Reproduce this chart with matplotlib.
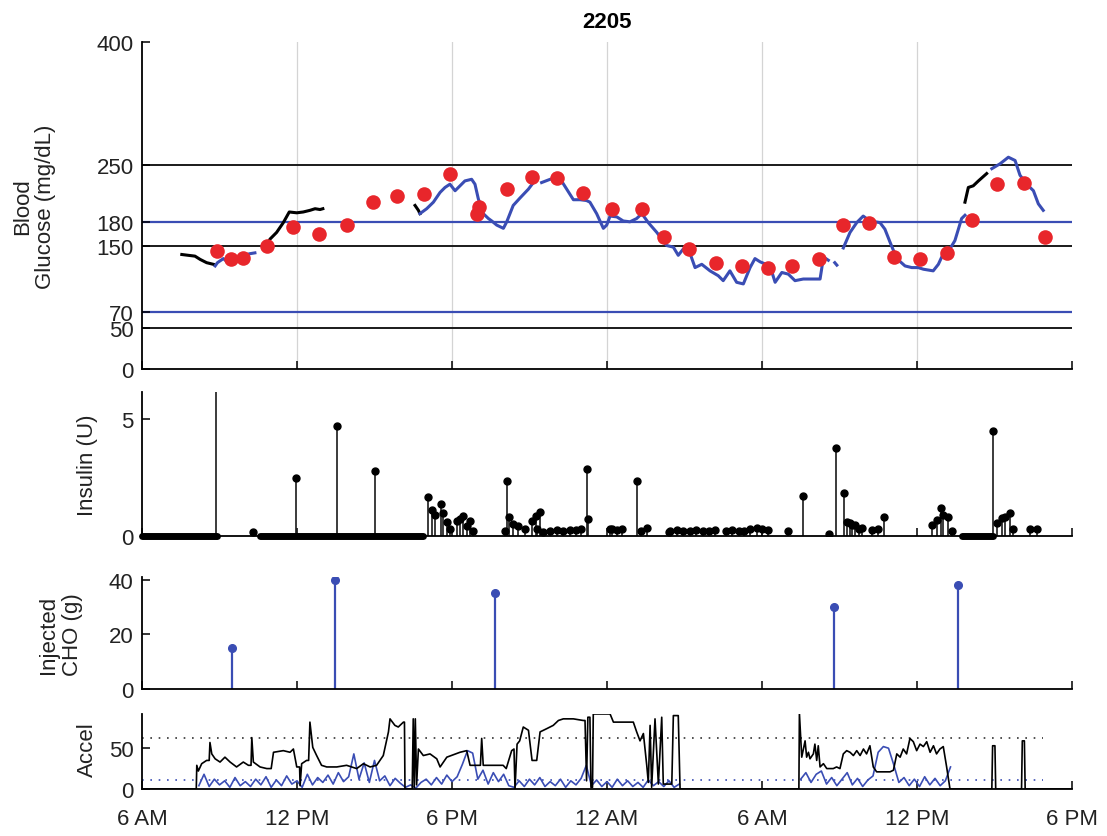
import matplotlib.pyplot as plt
import numpy as np

plt.rcParams['font.family'] = ['Liberation Sans', 'DejaVu Sans']

nan = np.nan

# time axis: hours since 6 AM of the first day
hour_ticks = [0, 6, 12, 18, 24, 30, 36]
hour_labels = ['6 AM', '12 PM', '6 PM', '12 AM', '6 AM', '12 PM', '6 PM']

# glucose thresholds (mg/dL)
black_limits = [250, 150, 50]
blue_limits = [180, 70]

# reference glucose readings (red dots)
ref_t = [2.92, 3.45, 3.92, 4.83, 5.86, 6.87, 7.92, 8.93, 9.86, 10.92, 11.92, 12.96,
         13.05, 14.12, 15.09, 16.08, 17.06, 18.2, 19.34, 20.21, 21.19, 22.22, 23.22,
         24.22, 25.15, 26.22, 27.15, 28.16, 29.12, 30.12, 31.15, 32.14, 33.09, 34.16, 34.96]
ref_g = [144, 134, 136, 151, 174, 165, 176, 204, 212, 214, 238, 190,
         198, 220, 235, 233, 215, 196, 196, 161, 147, 129, 126,
         124, 126, 135, 176, 178, 137, 135, 142, 182, 226, 227, 161]

# CGM trace (blue), gaps as nan
cgm_t = [2.83, 2.92, 3.15, 3.41, 3.67, 3.92, 4.18, 4.37, nan,
         10.76, 11.02, 11.28, 11.54, 11.73, 11.92, 12.12, 12.31, 12.5, 12.76, 12.89,
         13.02, 13.21, 13.41, 13.54, 13.73, 13.99, 14.12, 14.37, 14.63, 14.96, 15.15, nan,
         15.47, 15.8, 16.18, 16.44, 16.7, 16.96, 17.21, 17.34, 17.6, 17.86, 17.99, 18.12,
         18.38, 18.63, 18.89, 19.15, 19.35, 19.6, 19.93, 20.31, 20.57, 20.76, 20.96, 21.22,
         21.41, 21.67, 21.99, 22.31, 22.5, 22.76, 23.02, 23.28, 23.54, 23.73, 23.93, 24.31,
         24.51, 24.77, 25.02, 25.28, 25.6, 26.25, 26.31, 26.38, 26.57, nan,
         26.82, 26.9, nan,
         27.15, 27.41, 27.67, 27.92, 28.18, 28.57, 28.76, 28.96, 29.22, 29.54, 29.8, 30.05,
         30.25, 30.63, 30.83, 31.02, 31.28, 31.47, 31.73, 31.86, nan,
         32.9, 33.22, 33.54, 33.8, 33.99, 34.25, 34.51, 34.7, 34.89]
cgm_g = [126, 130, 135, 128, 132, 139, 141, 142, nan,
         190, 196, 204, 216, 222, 226, 218, 224, 230, 232, 226,
         208, 190, 184, 181, 176, 172, 180, 200, 209, 220, 228, nan,
         228, 232, 233, 220, 207, 207, 206, 204, 190, 172, 176, 187,
         186, 181, 180, 184, 190, 179, 167, 151, 149, 139, 147, 141,
         124, 128, 120, 114, 108, 120, 106, 104, 124, 135, 131, 126,
         106, 118, 116, 108, 110, 110, 122, 137, 133, nan,
         130, 127, nan,
         148, 167, 179, 187, 181, 179, 171, 155, 135, 126, 124, 124,
         122, 120, 128, 141, 147, 157, 184, 188, nan,
         245, 251, 259, 255, 237, 226, 218, 202, 194]

# second sensor segments (black)
cgm2_t = [1.54, 1.79, 2.05, 2.25, 2.5, 2.76, nan,
          4.76, 4.96, 5.21, 5.47, 5.7, 5.99, 6.24, 6.5, 6.7, 6.89, 7.0, nan,
          10.57, 10.7, 10.76, nan,
          31.86, 31.99, 32.18, 32.38, 32.7]
cgm2_g = [140, 139, 138, 134, 130, 128, nan,
          149, 159, 167, 179, 192, 191, 192, 194, 196, 195, 196, nan,
          200, 194, 190, nan,
          204, 222, 224, 230, 239]

# insulin deliveries (hour, U)
insulin = [(2.86, 9.0), (4.28, 0.15), (5.95, 2.45), (7.55, 4.69), (9.02, 2.75),
           (11.08, 1.65), (11.21, 1.12), (11.34, 0.89), (11.58, 1.36), (11.66, 1.0),
           (11.8, 0.58), (11.92, 0.3), (12.18, 0.65), (12.31, 0.72), (12.44, 0.86),
           (12.57, 0.44), (12.7, 0.65), (12.83, 0.23),
           (14.05, 0.23), (14.12, 2.35), (14.22, 0.8), (14.37, 0.51), (14.57, 0.44),
           (14.83, 0.3), (15.09, 0.65), (15.25, 0.86), (15.28, 0.3), (15.41, 1.03),
           (15.54, 0.16), (15.8, 0.2), (16.05, 0.25), (16.3, 0.2), (16.55, 0.25),
           (16.8, 0.25), (17.0, 0.3), (17.21, 2.85), (17.25, 0.72),
           (18.12, 0.3), (18.2, 0.3), (18.4, 0.25), (18.6, 0.3), (19.15, 2.35),
           (19.3, 0.23), (19.56, 0.33),
           (20.4, 0.15), (20.45, 0.2), (20.7, 0.25), (20.95, 0.2), (21.2, 0.2),
           (21.45, 0.25), (21.7, 0.2), (21.95, 0.2), (22.2, 0.25),
           (22.6, 0.2), (22.85, 0.25), (23.1, 0.2), (23.3, 0.2),
           (23.55, 0.3), (23.8, 0.35), (24.0, 0.3), (24.25, 0.25),
           (25.0, 0.2), (25.58, 1.72), (26.6, 0.1), (26.86, 3.74), (27.18, 1.82),
           (27.3, 0.6), (27.4, 0.55), (27.5, 0.45), (27.62, 0.45), (27.75, 0.3),
           (27.88, 0.35), (28.25, 0.25), (28.5, 0.3), (28.73, 0.82),
           (30.57, 0.45), (30.77, 0.7), (30.92, 1.2), (31.02, 0.9), (31.21, 0.8),
           (31.35, 0.2),
           (32.93, 4.48), (33.09, 0.55), (33.28, 0.75), (33.41, 0.8), (33.6, 1.0),
           (33.73, 0.3), (34.38, 0.3), (34.64, 0.3)]
# periods of very frequent small doses
basal_start = [0.0, 4.57, 31.73]
basal_end = [2.9, 10.89, 32.96]

# carbohydrates (g)
cho_t = [3.48, 7.48, 13.65, 26.78, 31.58]
cho_g = [15, 40, 35, 30, 38]

# accelerometer, black trace (hour, value)
accel = [(0, 0), (2.10, 0), (2.12, 29), (2.18, 22), (2.31, 31), (2.50, 35), (2.60, 35),
         (2.63, 57), (2.70, 43), (2.83, 37), (3.02, 33), (3.21, 39), (3.41, 33), (3.66, 27),
         (3.92, 33), (4.12, 29), (4.22, 29), (4.25, 63), (4.31, 33), (4.57, 27), (4.83, 25),
         (5.00, 25), (5.09, 45), (5.47, 47), (5.73, 45), (5.86, 49), (5.99, 27), (6.10, 27),
         (6.12, 4), (6.18, 31), (6.37, 35), (6.45, 35), (6.50, 82), (6.61, 51), (6.76, 41),
         (6.95, 29), (7.15, 27), (7.54, 27), (7.92, 29), (8.31, 25), (8.57, 31), (8.83, 27),
         (9.08, 29), (9.34, 41), (9.54, 70), (9.60, 86), (9.79, 78), (9.92, 76), (10.12, 82),
         (10.16, 82), (10.18, 0), (10.46, 0), (10.50, 86), (10.54, 2), (10.58, 86),
         (10.63, 5), (10.70, 49), (10.89, 41), (11.15, 43), (11.41, 37), (11.54, 27),
         (11.67, 33), (11.80, 39), (12.31, 45), (12.57, 47), (12.70, 29), (13.10, 29),
         (13.15, 62), (13.21, 29), (13.98, 29), (14.10, 25), (14.31, 47), (14.40, 49),
         (14.44, 0), (14.52, 55), (14.62, 59), (14.76, 76), (14.96, 72), (15.10, 35),
         (15.28, 35), (15.41, 70), (15.67, 74), (15.92, 78), (16.12, 84), (16.31, 86),
         (16.70, 86), (17.08, 84), (17.15, 84), (17.21, 10), (17.26, 88), (17.34, 88),
         (17.38, 2), (17.44, 2), (17.47, 92), (18.12, 92), (18.25, 82), (18.38, 82),
         (19.02, 82), (19.15, 70), (19.28, 59), (19.41, 68), (19.54, 29), (19.60, 8),
         (19.67, 78), (19.73, 2), (19.86, 86), (19.99, 6), (20.12, 88), (20.18, 6),
         (20.51, 6), (20.57, 90), (20.76, 90), (20.83, 0),
         (25.43, 0), (25.45, 93), (25.54, 39), (25.67, 59), (25.73, 39), (25.80, 45),
         (25.86, 37), (25.99, 43), (26.05, 55), (26.12, 35), (26.18, 53), (26.25, 27),
         (26.38, 31), (26.51, 25), (26.76, 25), (26.89, 27), (27.02, 25), (27.15, 43),
         (27.28, 47), (27.41, 45), (27.54, 41), (27.67, 47), (27.80, 41), (27.93, 49),
         (28.05, 43), (28.18, 53), (28.31, 27), (28.44, 21), (28.96, 21), (29.09, 23),
         (29.22, 43), (29.35, 39), (29.47, 49), (29.60, 43), (29.73, 62), (29.86, 58),
         (29.99, 47), (30.12, 55), (30.25, 52), (30.38, 58), (30.51, 45), (30.64, 53),
         (30.76, 43), (30.89, 49), (31.02, 52), (31.15, 27), (31.28, 0),
         (32.90, 0), (32.93, 53), (33.02, 53), (33.05, 0), (34.05, 0), (34.08, 59),
         (34.16, 59), (34.19, 0), (36.0, 0)]

# accelerometer, blue trace sampled every 0.2 h
blue1_start = 2.2
blue1_v = [4, 18, 3, 12, 5, 10, 2, 14, 4, 9, 3, 12, 5, 15, 2, 11, 4, 16, 6, 10,
           2, 18, 5, 14, 8, 17, 6, 20, 9, 15, 43, 12, 32, 8, 35, 10, 16, 4, 13, 7,
           2, 5, 1, 8, 12, 5, 14, 6, 17, 9, 15, 30, 47, 44, 12, 23, 6, 20, 9, 18,
           4, 2, 10, 3, 12, 5, 14, 3, 9, 4, 12, 2, 10, 5, 13, 29, 4, 11, 3, 9,
           2, 12, 4, 10, 3, 8, 2, 11, 4, 9, 3, 10, 2, 6]
blue2_start = 25.5
blue2_v = [12, 20, 8, 18, 22, 6, 14, 4, 12, 20, 5, 13, 3, 11, 16,
           45, 52, 50, 30, 8, 14, 4, 12, 3, 15, 5, 13, 4, 10, 27]
accel_high = 62
accel_low = 11

blue = '#3a4db4'
red = '#e8262b'
txt = '#222222'

fig = plt.figure(figsize=(11.07, 8.37), dpi=100)
ax1 = fig.add_axes([0.1283, 0.558, 0.840, 0.3907])
ax2 = fig.add_axes([0.1283, 0.3584, 0.840, 0.1720])
ax3 = fig.add_axes([0.1283, 0.1756, 0.840, 0.1338])
ax4 = fig.add_axes([0.1283, 0.0562, 0.840, 0.0896])
axes = [ax1, ax2, ax3, ax4]

for ax in axes:
    ax.set_xlim(0, 36)
    ax.set_xticks(hour_ticks)
    ax.set_xticklabels([])
    ax.spines[['top', 'right']].set_visible(False)
    ax.spines[['left', 'bottom']].set_linewidth(1.3)
    ax.tick_params(direction='in', length=5.5, width=1.1, labelsize=16,
                   labelcolor=txt, pad=6)
ax4.set_xticklabels(hour_labels)
ax4.tick_params(axis='x', pad=14)

# --- glucose ---
for x in hour_ticks[1:-1]:
    ax1.axvline(x, color='#d4d4d4', lw=0.9, zorder=0)
for y in black_limits:
    ax1.axhline(y, color='#1a1a1a', lw=1.4, zorder=1)
for y in blue_limits:
    ax1.axhline(y, color=blue, lw=1.6, zorder=1)
ax1.plot(cgm2_t, cgm2_g, color='black', lw=2.2, zorder=2)
ax1.plot(cgm_t, cgm_g, color=blue, lw=2.2, zorder=2)
ax1.plot(ref_t, ref_g, 'o', color=red, ms=10.5, mec='none', zorder=3)
ax1.set_ylim(0, 400)
ax1.set_yticks([0, 50, 70, 150, 180, 250, 400])
ax1.set_title('2205', fontsize=16, fontweight='bold', pad=11)

# --- insulin ---
ins_t, ins_u = zip(*insulin)
ax2.vlines(ins_t, 0, ins_u, color='#1a1a1a', lw=1.2)
ax2.plot(ins_t, ins_u, 'o', color='black', ms=5)
ax2.hlines([0] * len(basal_start), basal_start, basal_end, color='black',
           lw=5, capstyle='round', clip_on=False, zorder=3)
ax2.set_ylim(0, 6.13)
ax2.set_yticks([0, 5])

# --- carbohydrates ---
ax3.vlines(cho_t, 0, cho_g, color=blue, lw=1.6)
ax3.plot(cho_t, cho_g, 'o', color=blue, ms=5.5)
ax3.set_ylim(0, 41)
ax3.set_yticks([0, 20, 40])

# --- accelerometer ---
acc_t, acc_v = zip(*accel)
blue1_t = blue1_start + 0.2 * np.arange(len(blue1_v))
blue2_t = blue2_start + 0.2 * np.arange(len(blue2_v))
ax4.hlines(accel_high, 0, 34.9, color='#333333', lw=1.2, linestyles=(0, (1, 4)))
ax4.hlines(accel_low, 0, 34.9, color=blue, lw=1.2, linestyles=(0, (1, 4)))
ax4.plot(blue1_t, blue1_v, color=blue, lw=1.2)
ax4.plot(blue2_t, blue2_v, color=blue, lw=1.2)
ax4.plot(acc_t, acc_v, color='black', lw=1.2)
ax4.set_ylim(0, 92)
ax4.set_yticks([0, 50])

# axis labels
lab = dict(rotation=90, ha='center', va='center', fontsize=16, color=txt,
           linespacing=1.15)
fig.text(0.0307, 0.7527, 'Blood\nGlucose (mg/dL)', **lab)
fig.text(0.0786, 0.4444, 'Insulin (U)', **lab)
fig.text(0.0545, 0.2413, 'Injected\nCHO (g)', **lab)
fig.text(0.0786, 0.104, 'Accel', **lab)

fig.savefig('out.png', dpi=100)
